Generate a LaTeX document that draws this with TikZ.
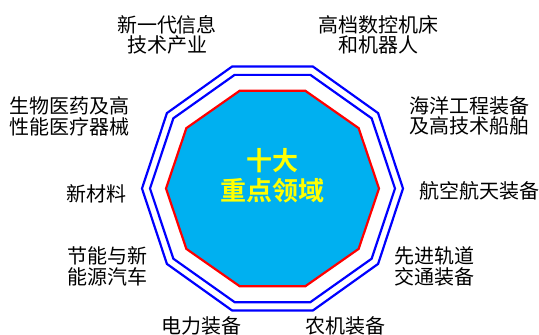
\documentclass[tikz,border=0pt]{standalone}
\usepackage{fontspec}
\newfontfamily\cjk{Noto Sans CJK SC}
\newfontfamily\cjkb{Noto Sans CJK SC Bold}
\definecolor{fillblue}{HTML}{00B0F0}
\definecolor{lineblue}{HTML}{0000FF}
\definecolor{linered}{HTML}{FF0000}
\definecolor{txtyellow}{HTML}{FFFF00}
\tikzset{
  blueline/.style={draw=lineblue, line width=2.2pt, line join=miter},
  redline/.style={draw=linered, line width=2.2pt, fill=fillblue, line join=miter},
  lbl/.style={align=center, inner sep=0pt, text=black, font=\cjk\fontsize{20}{20.5}\selectfont},
  ctr/.style={align=center, inner sep=0pt, text=txtyellow, font=\cjkb\fontsize{26}{30}\selectfont}
}
\begin{document}
\begin{tikzpicture}[x=1pt,y=-1pt]
\useasboundingbox (0,0) rectangle (539,335);
\begin{scope}[shift={(272.5,188.5)}]
  \draw[blueline] (0:130.5 and 128.3) \foreach \a in {36,72,...,324} {-- (\a:130.5 and 128.3)} -- cycle;
  \draw[blueline] (0:122.5 and 119.5) \foreach \a in {36,72,...,324} {-- (\a:122.5 and 119.5)} -- cycle;
  \draw[redline] (0:106.5 and 102.7) \foreach \a in {36,72,...,324} {-- (\a:106.5 and 102.7)} -- cycle;
\end{scope}
\node[ctr] (center) at (272.5,176) {十大\\重点领域};
\node[lbl] (l1) at (167,35) {新一代信息\\技术产业};
\node[lbl] (l2) at (378,35) {高档数控机床\\和机器人};
\node[lbl] (l3) at (69.7,116.5) {生物医药及高\\性能医疗器械};
\node[lbl] (l4) at (469,116) {海洋工程装备\\及高技术船舶};
\node[lbl] (l5) at (96.5,194) {新材料};
\node[lbl] (l6) at (479.5,191) {航空航天装备};
\node[lbl] (l7) at (107,266.5) {节能与新\\能源汽车};
\node[lbl] (l8) at (434,266.5) {先进轨道\\交通装备};
\node[lbl] (l9) at (201.5,326) {电力装备};
\node[lbl] (l10) at (345.5,326) {农机装备};
\end{tikzpicture}
\end{document}
